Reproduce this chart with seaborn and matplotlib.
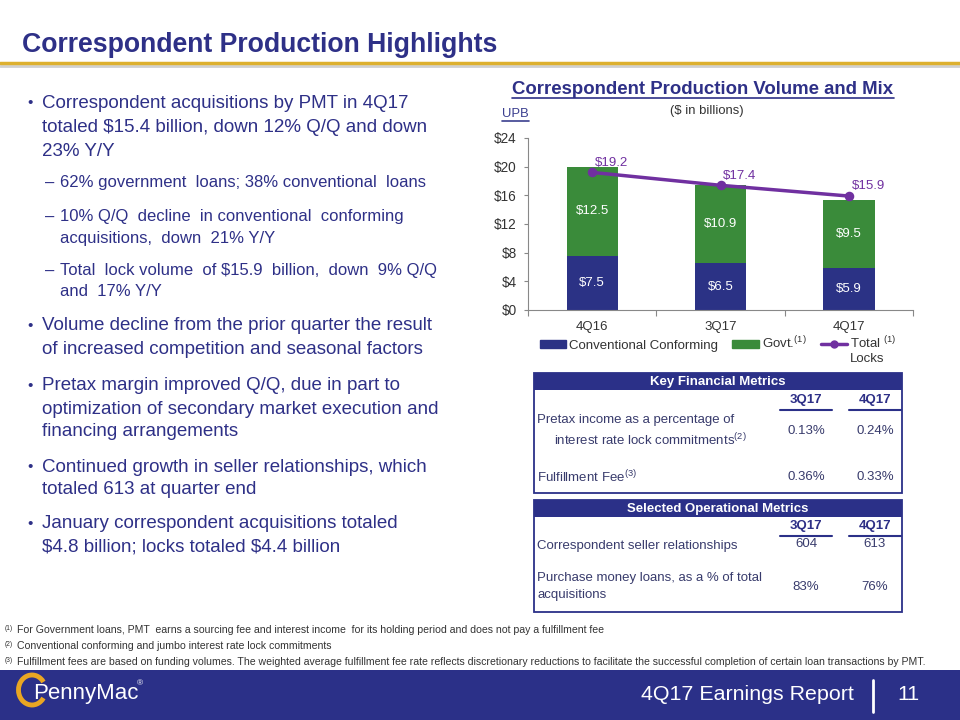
import matplotlib.pyplot as plt
import matplotlib.patches as mpatches
from matplotlib.lines import Line2D
import seaborn as sns

sns.set_style('ticks')
plt.rcParams['font.family'] = ['Liberation Sans', 'DejaVu Sans']
plt.rcParams['mathtext.fontset'] = 'custom'
plt.rcParams['mathtext.rm'] = 'Liberation Sans'
plt.rcParams['mathtext.it'] = 'Liberation Sans:italic'
plt.rcParams['mathtext.bf'] = 'Liberation Sans:bold'

# %% data ($ in billions)
quarters = ['4Q16', '3Q17', '4Q17']
conventional = [7.5, 6.5, 5.9]
govt = [12.5, 10.9, 9.5]
total_locks = [19.2, 17.4, 15.9]
yticks = [0, 4, 8, 12, 16, 20, 24]
legend_labels = ['Conventional Conforming', r'Govt.$^{\mathrm{(1)}}$',
                 r'Total $^{\mathrm{(1)}}$']
legend_extra = 'Locks'

table_cols = ['3Q17', '4Q17']
pretax = ['0.13%', '0.24%']
fulfillment_fee = ['0.36%', '0.33%']
seller_rel = ['604', '613']
purchase_money = ['83%', '76%']

NAVY = '#2B3088'
BAR_NAVY = '#2B3285'
GREEN = '#3A8B3A'
PURPLE = '#7030A0'
TEXT = '#2E3087'
GREY = '#333333'
TAB = '#383B6C'
GOLD = '#DDB02F'

# %% page canvas in pixel coords
fig = plt.figure(figsize=(9.6, 7.2), dpi=100)
bg = fig.add_axes([0, 0, 1, 1])
bg.set_xlim(0, 960)
bg.set_ylim(720, 0)
bg.axis('off')

bg.text(22, 45, 'Correspondent Production Highlights', fontsize=19.2,
        fontweight='bold', color=TEXT, va='center')
bg.plot([0, 960], [66, 66], color='#d0d0d0', lw=2)
bg.plot([0, 960], [63, 63], color=GOLD, lw=2.5)

# bullets (y, kind, text)   kind: b = bullet, c = continuation, s = sub, sc = sub cont.
lines = [
    (103, 'b', 'Correspondent acquisitions by PMT in 4Q17'),
    (127, 'c', 'totaled $15.4 billion, down 12% Q/Q and down'),
    (151, 'c', '23% Y/Y'),
    (183, 's', '62% government  loans; 38% conventional  loans'),
    (217, 's', '10% Q/Q  decline  in conventional  conforming'),
    (238, 'sc', 'acquisitions,  down  21% Y/Y'),
    (271, 's', 'Total  lock volume  of $15.9  billion,  down  9% Q/Q'),
    (292, 'sc', 'and  17% Y/Y'),
    (326, 'b', 'Volume decline from the prior quarter the result'),
    (350, 'c', 'of increased competition and seasonal factors'),
    (386, 'b', 'Pretax margin improved Q/Q, due in part to'),
    (409, 'c', 'optimization of secondary market execution and'),
    (432, 'c', 'financing arrangements'),
    (467, 'b', 'Continued growth in seller relationships, which'),
    (490, 'c', 'totaled 613 at quarter end'),
    (524, 'b', 'January correspondent acquisitions totaled'),
    (547, 'c', '$4.8 billion; locks totaled $4.4 billion'),
]
for y, kind, txt in lines:
    txt = txt.replace('$', r'\$')
    if kind in ('b', 'c'):
        if kind == 'b':
            bg.text(27, y, '•', fontsize=11, color=TEXT, va='center')
        bg.text(42, y, txt, fontsize=13.5, color=TEXT, va='center')
    else:
        if kind == 's':
            bg.text(45, y, '–', fontsize=12, color=TEXT, va='center')
        bg.text(60, y, txt, fontsize=12, color=TEXT, va='center')

# footnotes
notes = [
    (630, '(1)', 'For Government loans, PMT  earns a sourcing fee and interest income  for its holding period and does not pay a fulfillment fee'),
    (646, '(2)', 'Conventional conforming and jumbo interest rate lock commitments'),
    (662, '(3)', 'Fulfillment fees are based on funding volumes. The weighted average fulfillment fee rate reflects discretionary reductions to facilitate the successful completion of certain loan transactions by PMT.'),
]
for y, sup, txt in notes:
    bg.text(5, y - 2, sup, fontsize=4.8, color=GREY, va='center')
    bg.text(17, y, txt, fontsize=7.6, color=GREY, va='center')

# footer band
bg.add_patch(mpatches.Rectangle((0, 670), 960, 50, color=NAVY, lw=0))
bg.add_patch(mpatches.Arc((32, 690), 27, 30, theta1=35, theta2=325,
                          color='#E9A623', lw=3.5))
bg.text(33, 694, 'PennyMac', fontsize=16, color='white', va='center')
bg.text(137, 684, '®', fontsize=6, color='white', va='center')
bg.text(641, 694, '4Q17 Earnings Report', fontsize=15.4, color='white', va='center')
bg.plot([873, 873], [680, 712], color='white', lw=2)
bg.text(908, 694, '11', fontsize=15.4, color='white', va='center', ha='center')

# %% tables
def table_box(y0, y1, title):
    bg.add_patch(mpatches.Rectangle((534, y0), 368, y1 - y0, fill=False,
                                    edgecolor=NAVY, lw=1.3))
    bg.add_patch(mpatches.Rectangle((534, y0), 368, 17, color=NAVY, lw=0))
    bg.text(718, y0 + 9, title, fontsize=9.5, fontweight='bold', color='white',
            ha='center', va='center')


def col_heads(y):
    for x0, x1, c in zip([780, 849], [832, 901], table_cols):
        bg.text((x0 + x1) / 2, y, c, fontsize=9.5, fontweight='bold', color=TEXT,
                ha='center', va='center')
        bg.plot([x0, x1], [y + 10, y + 10], color=NAVY, lw=1.5)


table_box(373, 493, 'Key Financial Metrics')
col_heads(400)
bg.text(537, 420, 'Pretax income as a percentage of', fontsize=9.5, color=TAB, va='center')
bg.text(554, 440, r'interest rate lock commitments$^{\mathrm{(2)}}$', fontsize=9.5,
        color=TAB, va='center')
bg.text(537, 477, r'Fulfillment Fee$^{\mathrm{(3)}}$', fontsize=9.5, color=TAB, va='center')
for x, v1, v2 in zip([806, 875], pretax, fulfillment_fee):
    bg.text(x, 431, v1, fontsize=9.5, color=TAB, ha='center', va='center')
    bg.text(x, 477, v2, fontsize=9.5, color=TAB, ha='center', va='center')

table_box(500, 612, 'Selected Operational Metrics')
col_heads(526)
bg.text(537, 546, 'Correspondent seller relationships', fontsize=9.5, color=TAB, va='center')
bg.text(537, 578, 'Purchase money loans, as a % of total', fontsize=9.5, color=TAB, va='center')
bg.text(537, 595, 'acquisitions', fontsize=9.5, color=TAB, va='center')
for x, v1, v2 in zip([806, 875], seller_rel, purchase_money):
    bg.text(x, 544, v1, fontsize=9.5, color=TAB, ha='center', va='center')
    bg.text(x, 587, v2, fontsize=9.5, color=TAB, ha='center', va='center')

# %% chart
t1 = bg.text(703, 89, 'Correspondent Production Volume and Mix', fontsize=13.4,
             fontweight='bold', color=TEXT, ha='center', va='center')
bg.text(707, 111, '($ in billions)', fontsize=9.4, color=GREY, ha='center', va='center')
t2 = bg.text(502, 114, 'UPB', fontsize=9.4, color='#3B3F8F', va='center')

ax = fig.add_axes([528 / 960, 1 - 310 / 720, 385 / 960, 172 / 720])
ax.set_facecolor('none')
sns.barplot(x=quarters, y=conventional, color=BAR_NAVY, width=0.4, saturation=1,
            linewidth=0, errorbar=None, ax=ax)
sns.barplot(x=quarters, y=govt, bottom=conventional, color=GREEN, width=0.4,
            saturation=1, linewidth=0, errorbar=None, ax=ax)
sns.pointplot(x=quarters, y=total_locks, color=PURPLE, errorbar=None, markers='o',
              markersize=5, linewidth=2.5, ax=ax)

for cont, vals in zip(ax.containers[:2], [conventional, govt]):
    ax.bar_label(cont, labels=[f'${v}' for v in vals], label_type='center',
                 color='white', fontsize=9.5)
for i, v in enumerate(total_locks):
    ax.annotate(f'${v}', (i, v), xytext=(2, 7), textcoords='offset points',
                color=PURPLE, fontsize=9.5, ha='left', va='center')

ax.set_ylim(0, 24)
ax.set_yticks(yticks)
ax.set_yticklabels([f'${t}' for t in yticks])
ax.set_xlim(-0.5, 2.5)
ax.set_xticks([-0.5, 0.5, 1.5, 2.5])
ax.set_xticklabels([])
ax.set_xticks([0, 1, 2], minor=True)
ax.set_xticklabels(quarters, minor=True)
ax.tick_params(axis='x', which='minor', length=0, pad=8, labelsize=9.5, labelcolor=GREY)
ax.tick_params(axis='x', which='major', length=4, color='#888888')
ax.tick_params(axis='y', length=3, pad=5, labelsize=9.8, labelcolor=GREY, color='#888888')
ax.set_xlabel('')
ax.set_ylabel('')
sns.despine(ax=ax)
for s in ['left', 'bottom']:
    ax.spines[s].set_color('#888888')
    ax.spines[s].set_linewidth(0.8)

handles = [mpatches.Patch(color=BAR_NAVY), mpatches.Patch(color=GREEN),
           Line2D([], [], color=PURPLE, lw=2.5, marker='o', markersize=5)]
leg = ax.legend(handles, legend_labels, ncol=3, loc='upper left',
                bbox_to_anchor=(0.031, -0.145), frameon=False, fontsize=9.5,
                handlelength=2.0, handleheight=0.6, handletextpad=0.2,
                columnspacing=1.1, borderpad=0, borderaxespad=0, labelcolor=GREY)

# underlines under chart title and UPB, second line of the last legend label
fig.canvas.draw()
inv = bg.transData.inverted()
for t, off in [(t1, 9), (t2, 7)]:
    bb = t.get_window_extent()
    (xa, _), (xb, _) = inv.transform([[bb.x0, bb.y0], [bb.x1, bb.y1]])
    y = t.get_position()[1] + off
    bg.plot([xa, xb], [y, y], color=t.get_color(), lw=1.2)

bb = leg.get_texts()[2].get_window_extent()
(xa, ya), = inv.transform([[bb.x0, bb.y0]])
bg.text(xa, ya + 1, legend_extra, fontsize=9.5, color=GREY, va='top')

fig.savefig('out.png', dpi=100)
